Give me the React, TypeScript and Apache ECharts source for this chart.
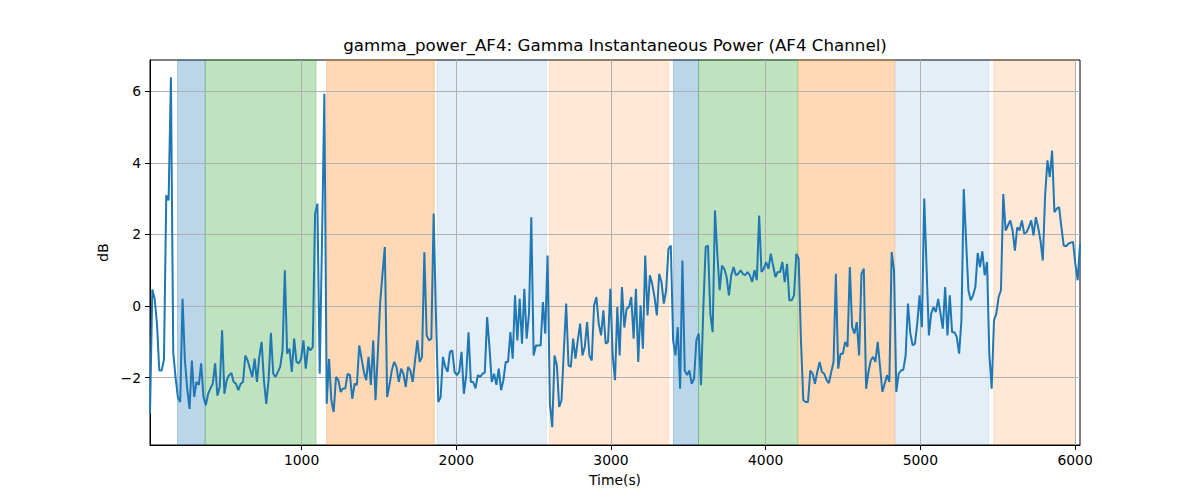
import React, { useEffect, useRef } from "react";
import * as echarts from "echarts";

const TITLE = "gamma_power_AF4: Gamma Instantaneous Power (AF4 Channel)";
const X_LABEL = "Time(s)";
const Y_LABEL = "dB";
const X_TICKS = [1000, 2000, 3000, 4000, 5000, 6000];
const Y_TICKS = [-2, 0, 2, 4, 6];
const X_MIN = 20;
const X_MAX = 6032;
const Y_MIN = -3.88;
const Y_MAX = 6.87;
const SAMPLE_START = 20;
const SAMPLE_STEP = 15.03;

const power01 = [-3.0, 0.46, 0.2, -0.5, -1.8, -1.8, -1.5, 3.09, 2.95, 6.39, -1.3, -2.0, -2.55, -2.68, 0.2, -1.5, -2.3, -2.87, -1.52, -2.54, -2.12, -2.2, -1.6, -2.54, -2.77, -2.45, -2.3, -2.17, -1.6, -2.5, -2.26, -0.68, -2.45, -2.07, -1.93, -1.87, -2.12, -2.17, -2.35, -2.17, -2.12];
const power02 = [-1.38, -1.52, -1.75, -1.98, -1.47, -2.12, -1.42, -1.0, -2.07, -2.73, -2.07, -0.75, -1.89, -1.98, -1.84, -1.7, -1.24, 1.0, -1.33, -1.19, -1.84, -0.91, -1.56, -1.6, -1.47, -0.96, -1.75, -1.14, -1.24, -1.14, 2.58, 2.86, -1.89, 1.9, 5.93, -2.73, -1.47, -2.63, -2.96, -1.98, -2.07];
const power03 = [-2.4, -2.3, -2.3, -1.89, -1.93, -2.59, -2.17, -2.2, -1.1, -1.47, -1.84, -2.07, -1.42, -2.2, -0.96, -2.63, -1.3, 0.1, 0.9, 1.65, -2.54, -2.2, -1.8, -1.56, -1.7, -2.12, -1.75, -1.89, -2.26, -1.7, -1.8, -2.12, -1.52, -0.96, -1.56, -1.42, 1.5, -0.82, -0.96, -0.91, 2.58];
const power04 = [-0.3, -2.68, -2.54, -1.42, -1.7, -1.84, -1.28, -1.24, -1.84, -1.93, -1.84, -1.28, -2.45, -1.93, -0.73, -2.12, -2.12, -2.3, -1.93, -1.98, -1.89, -1.86, -0.31, -1.14, -2.12, -1.89, -2.2, -1.75, -2.35, -2.07, -1.56, -1.56, -0.73, -1.47, 0.3, -0.96, 0.2, -1.05, 0.48, -0.91];
const power05 = [-0.21, 2.48, -1.38, -1.1, -1.1, -1.1, 0.11, -0.77, 1.41, -2.73, -3.38, -1.38, -1.66, -2.82, -2.63, -1.24, 0.07, -1.66, -1.7, -0.91, -1.47, -0.96, -0.49, -1.38, -1.14, -0.45, -1.38, -1.52, 0.02, 0.25, -0.49, -0.82, -0.12, -1.05, -1.0, 0.48, -1.38, -2.07, -0.03, -1.38, 0.53, -0.6];
const power06 = [-0.07, -0.03, 0.25, -0.91, 0.48, -1.56, 0.02, -1.19, 1.41, -0.26, 0.86, 0.62, 0.25, -0.26, 0.9, 0.67, 0.07, 0.44, 1.6, 1.69, -0.96, -1.38, -0.59, -2.31, 1.27, -1.8, -1.93, -1.8, -2.17, -2.03, -0.96, -0.77, -2.21, -0.03, 1.65, 1.69, -0.21, -0.73, 2.67, 1.46, 0.44];
const power07 = [1.13, 1.04, 0.81, 0.3, 0.86, 1.09, 0.86, 0.9, 1.0, 0.9, 0.86, 0.95, 0.86, 0.67, 1.0, 0.72, 2.53, 0.95, 1.04, 1.23, 1.04, 1.46, 1.13, 0.81, 0.95, 0.95, 1.23, 0.67, 1.18, 0.16, 0.16, 0.3, 1.46, 1.32, -1.0, -2.63, -2.68, -2.68, -1.8, -1.89];
const power08 = [-2.17, -1.84, -1.56, -1.84, -1.89, -2.07, -2.15, -1.84, -1.56, 0.9, -1.75, -1.33, -1.33, -1.0, -1.14, 1.09, -0.59, -0.77, -0.45, -1.38, 0.9, 1.04, -2.31, -1.84, -1.52, -1.42, -1.56, -1.0, -1.7, -2.4, -2.17, -1.93, -2.12, 1.51, 1.0, -2.4, -1.89, -1.8, -1.78, -1.38, 0.07];
const power09 = [-0.75, -1.1, -1.05, -0.49, 0.3, -0.59, 3.0, 1.09, -0.82, -0.21, -0.03, -0.17, 0.2, -0.21, -0.63, 0.53, -0.82, 0.3, -0.73, -0.73, -0.87, -1.33, -0.4, 3.27, 1.83, 0.44, 0.16, 0.3, 0.53, 1.48, 1.09, 1.53, 0.86, 1.23, -1.33, -2.31, -0.4, -0.21, 0.25, 0.44, 3.13];
const power10 = [2.11, 2.25, 2.39, 2.11, 1.55, 2.2, 2.11, 2.39, 2.02, 2.06, 2.2, 2.39, 1.97, 2.48, 2.2, 1.83, 1.27, 3.09, 4.07, 3.6, 4.34, 2.62, 2.72, 2.76, 2.2, 1.69, 1.67, 1.74, 1.77, 1.79, 1.18, 0.72, 1.74];

const spanStart = [198, 377, 1162, 1876, 2602, 3404, 3566, 4211, 4840, 5474];
const spanEnd = [377, 1093, 1858, 2583, 3374, 3566, 4206, 4834, 5442, 6003];
const spanKind = ["blue", "green", "orange", "paleBlue", "paleOrange", "blue", "green", "orange", "paleBlue", "paleOrange"];

const SPAN_COLORS: Record<string, string> = {
  blue: "rgba(31,119,180,0.3)",
  green: "rgba(44,160,44,0.3)",
  orange: "rgba(255,127,14,0.3)",
  paleBlue: "rgba(31,119,180,0.12)",
  paleOrange: "rgba(255,127,14,0.17)",
};

const FONT = "DejaVu Sans";
const fmt = (v: number) => String(v).replace("-", "\u2212");

export default function App() {
  const ref = useRef<HTMLDivElement>(null);
  useEffect(() => {
    document.body.style.margin = "0";
    if (!ref.current) return;
    const chart = echarts.init(ref.current, undefined, { renderer: "svg" });
    const values = [
      ...power01, ...power02, ...power03, ...power04, ...power05,
      ...power06, ...power07, ...power08, ...power09, ...power10,
    ];
    const lineData = values.map((v, i) => [SAMPLE_START + i * SAMPLE_STEP, v]);
    const areas = spanStart.map((s, i) => [
      {
        xAxis: s,
        itemStyle: {
          color: SPAN_COLORS[spanKind[i]],
          borderColor: SPAN_COLORS[spanKind[i]],
          borderWidth: 1,
        },
      },
      { xAxis: spanEnd[i] },
    ]);
    const axisCommon = {
      type: "value",
      z: 1,
      axisLine: { show: true, onZero: false, lineStyle: { color: "#000", width: 1 } },
      axisTick: { show: true, length: 5, lineStyle: { color: "#000", width: 1 } },
      splitLine: { show: true, lineStyle: { color: "#b0b0b0", width: 1 } },
    };
    chart.setOption({
      animation: false,
      backgroundColor: "#fff",
      grid: {
        left: 150, right: 120, top: 60, bottom: 55,
        show: true, borderColor: "#000", borderWidth: 1, backgroundColor: "transparent",
      },
      graphic: [
        {
          type: "text",
          x: 615,
          y: 53,
          style: {
            text: TITLE,
            textAlign: "center",
            textVerticalAlign: "bottom",
            fontFamily: FONT,
            fontSize: 16.7,
            fill: "#000",
          },
        },
      ],
      xAxis: {
        ...axisCommon,
        min: X_MIN,
        max: X_MAX,
        axisTick: { ...axisCommon.axisTick, customValues: X_TICKS },
        axisLabel: {
          customValues: X_TICKS,
          formatter: fmt,
          color: "#000",
          fontFamily: FONT,
          fontSize: 13.9,
          margin: 8,
        },
        name: X_LABEL,
        nameLocation: "middle",
        nameGap: 28,
        nameTextStyle: { color: "#000", fontFamily: FONT, fontSize: 13.9 },
      },
      yAxis: {
        ...axisCommon,
        min: Y_MIN,
        max: Y_MAX,
        axisTick: { ...axisCommon.axisTick, customValues: Y_TICKS },
        axisLabel: {
          customValues: Y_TICKS,
          formatter: fmt,
          color: "#000",
          fontFamily: FONT,
          fontSize: 13.9,
          margin: 9,
        },
        name: Y_LABEL,
        nameLocation: "middle",
        nameGap: 33,
        nameTextStyle: { color: "#000", fontFamily: FONT, fontSize: 13.9 },
      },
      series: [
        {
          type: "line",
          data: [],
          z: 0,
          silent: true,
          markArea: { silent: true, z: 0, data: areas },
        },
        {
          type: "line",
          data: lineData,
          z: 3,
          symbol: "none",
          showSymbol: false,
          lineStyle: { color: "#1f77b4", width: 2 },
          itemStyle: { color: "#1f77b4" },
        },
      ],
    });
    return () => chart.dispose();
  }, []);
  return <div ref={ref} style={{ width: 1200, height: 500 }} />;
}
